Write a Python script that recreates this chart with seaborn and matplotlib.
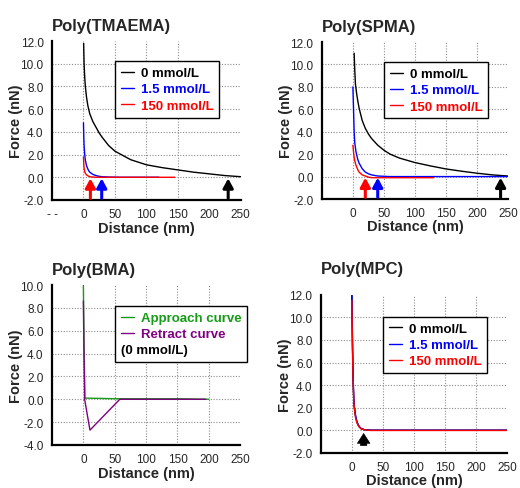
import matplotlib
matplotlib.use("Agg")
import matplotlib.pyplot as plt
import seaborn as sns

# ---- data ----
# Poly(TMAEMA)
tm_x0 = [0.3, 1, 2, 3, 5, 7, 10, 15, 20, 25, 30, 40, 50, 60, 75, 100, 125, 150, 175, 200, 225, 250]
tm_y0 = [11.8, 10.0, 8.8, 8.0, 7.0, 6.3, 5.6, 4.9, 4.4, 3.9, 3.5, 2.8, 2.3, 2.0, 1.55, 1.1, 0.85, 0.65, 0.45, 0.3, 0.15, 0.05]
tm_x15 = [0, 0.5, 1, 2, 3, 5, 8, 10, 15, 20, 25, 30, 40, 60, 80, 100, 120]
tm_y15 = [4.8, 3.6, 2.8, 2.0, 1.5, 1.0, 0.6, 0.45, 0.25, 0.15, 0.08, 0.05, 0.02, 0.0, 0.0, 0.0, 0.0]
tm_x150 = [0, 0.5, 1, 2, 3, 5, 8, 10, 15, 20, 40, 80, 120, 145]
tm_y150 = [1.8, 1.2, 0.8, 0.5, 0.35, 0.2, 0.1, 0.05, 0.02, 0.0, 0.0, 0.0, 0.0, 0.0]
tm_arrows = [11, 29, 230]

# Poly(SPMA)
spm_x0 = [2, 3, 4, 6, 8, 10, 15, 20, 25, 30, 40, 50, 60, 75, 100, 125, 150, 175, 200, 225, 250]
spm_y0 = [11.0, 9.5, 8.3, 7.4, 6.7, 6.1, 5.0, 4.3, 3.8, 3.4, 2.8, 2.35, 2.0, 1.65, 1.25, 0.95, 0.68, 0.48, 0.3, 0.15, 0.05]
spm_x15 = [0, 1, 2, 3, 5, 8, 10, 15, 20, 25, 30, 40, 60, 100, 150, 200, 250]
spm_y15 = [8.0, 6.0, 4.0, 3.0, 2.2, 1.5, 1.2, 0.7, 0.4, 0.25, 0.15, 0.05, 0.0, 0.0, 0.0, 0.0, 0.0]
spm_x150 = [0, 1, 2, 3, 5, 8, 10, 15, 20, 25, 30, 50, 80, 130]
spm_y150 = [2.8, 2.2, 1.7, 1.4, 1.0, 0.6, 0.4, 0.15, 0.05, -0.05, -0.1, -0.1, -0.1, -0.1]
spm_arrows = [20, 40, 238]

# Poly(BMA), 0 mmol/L
bma_app_x = [0, 1, 2.5, 5, 50, 100, 150, 200]
bma_app_y = [10.0, 5.0, 0.1, 0.1, 0.05, 0.05, 0.05, 0.0]
bma_ret_x = [0, 1, 2, 10.5, 58, 100, 150, 195]
bma_ret_y = [8.6, 4.0, 0.0, -2.7, 0.0, 0.0, 0.0, 0.0]

# Poly(MPC)
mpc_x = [0, 1, 2, 3, 4, 6, 8, 10, 12, 15, 20, 30, 50, 100, 150, 200, 250]
mpc_y0 = [12.0, 7.5, 4.5, 2.8, 2.0, 1.2, 0.75, 0.5, 0.3, 0.15, 0.05, 0.0, 0.0, 0.0, 0.0, 0.0, 0.0]
mpc_y15 = [12.0, 7.8, 4.8, 3.0, 2.1, 1.3, 0.8, 0.5, 0.3, 0.15, 0.05, 0.0, 0.0, 0.0, 0.0, 0.0, 0.0]
mpc_y150 = [11.5, 7.2, 4.3, 2.7, 1.9, 1.1, 0.7, 0.45, 0.28, 0.12, 0.04, -0.02, -0.02, -0.02, -0.02, -0.02, -0.02]
mpc_arrows = [19]

conc_labels = ["0 mmol/L", "1.5 mmol/L", "150 mmol/L"]
conc_colors = ["black", "#0000ff", "#ff0000"]

sns.set_style("white")
plt.rcParams["font.family"] = ["Liberation Sans", "DejaVu Sans"]

fig = plt.figure(figsize=(5.2, 4.89), dpi=100)
ax1 = fig.add_axes([0.100, 0.589, 0.363, 0.325])
ax2 = fig.add_axes([0.619, 0.591, 0.358, 0.321])
ax3 = fig.add_axes([0.100, 0.088, 0.362, 0.327])
ax4 = fig.add_axes([0.617, 0.072, 0.358, 0.323])


def style_axis(ax, title, ylim, yticks, title_pad=8):
    ax.set_xlim(-50, 250)
    ax.set_ylim(*ylim)
    ax.set_xticks([0, 50, 100, 150, 200, 250])
    ax.set_yticks(yticks)
    ax.set_yticklabels([f"{v:.1f}" for v in yticks])
    ax.tick_params(length=0, labelsize=8.5, pad=6)
    for s in ["top", "right"]:
        ax.spines[s].set_visible(False)
    for s in ["left", "bottom"]:
        ax.spines[s].set_color("black")
        ax.spines[s].set_linewidth(1.6)
    ax.set_axisbelow(True)
    ax.grid(True, color="#8c8c8c", linestyle=(0, (1, 1.5)), linewidth=0.8)
    # no dotted line along top edge / right edge
    ax.get_ygridlines()[-1].set_visible(False)
    ax.get_xgridlines()[-1].set_visible(False)
    ax.set_title(title, loc="left", fontsize=12, fontweight="bold", pad=title_pad)
    ax.set_xlabel("Distance (nm)", fontsize=10.5, fontweight="bold")
    ax.set_ylabel("Force (nN)", fontsize=10.5, fontweight="bold")
    ax.xaxis.set_label_coords(0.5, -0.13)
    ax.yaxis.set_label_coords(-0.155, 0.5)


def add_legend(ax, anchor, colors, handles=None, labels=None):
    leg = ax.legend(handles=handles, labels=labels, loc="upper left", bbox_to_anchor=anchor,
                    borderaxespad=0, frameon=True, fancybox=False, edgecolor="black",
                    framealpha=1, handlelength=1.0, handletextpad=0.5,
                    labelspacing=0.3, borderpad=0.45, prop={"weight": "bold", "size": 9.5})
    leg.get_frame().set_linewidth(1.0)
    for txt, c in zip(leg.get_texts(), colors):
        txt.set_color(c)
    return leg


def arrow(ax, x, color, thick=False):
    if thick:
        props = dict(arrowstyle="simple,head_width=0.9,head_length=0.7,tail_width=0.45",
                     color=color, lw=0.5)
        ax.annotate("", xy=(x, -0.05), xytext=(x, -1.6), arrowprops=props)
    else:
        props = dict(arrowstyle="-|>,head_width=0.3,head_length=0.55", color=color, lw=2.2,
                     shrinkA=0, shrinkB=0)
        ax.annotate("", xy=(x, -0.1), xytext=(x, -1.85), arrowprops=props)


# ---- Poly(TMAEMA) ----
for x, y, lab, c in zip([tm_x0, tm_x15, tm_x150], [tm_y0, tm_y15, tm_y150], conc_labels, conc_colors):
    sns.lineplot(x=x, y=y, ax=ax1, color=c, linewidth=1.0, label=lab, sort=False, estimator=None)
style_axis(ax1, "Poly(TMAEMA)", (-2, 12), [-2, 0, 2, 4, 6, 8, 10, 12])
ax1.set_xticks([-50, 0, 50, 100, 150, 200, 250])
ax1.set_xticklabels(["- -", "0", "50", "100", "150", "200", "250"])
ax1.get_xgridlines()[0].set_visible(False)
ax1.get_xgridlines()[-1].set_visible(False)
for xa, c in zip(tm_arrows, ["#ff0000", "#0000ff", "black"]):
    arrow(ax1, xa, c)
add_legend(ax1, (0.333, 0.874), conc_colors)

# ---- Poly(SPMA) ----
for x, y, lab, c in zip([spm_x0, spm_x15, spm_x150], [spm_y0, spm_y15, spm_y150], conc_labels, conc_colors):
    sns.lineplot(x=x, y=y, ax=ax2, color=c, linewidth=1.0, label=lab, sort=False, estimator=None)
style_axis(ax2, "Poly(SPMA)", (-2, 12), [-2, 0, 2, 4, 6, 8, 10, 12])
for xa, c in zip(spm_arrows, ["#ff0000", "#0000ff", "black"]):
    arrow(ax2, xa, c)
add_legend(ax2, (0.333, 0.873), conc_colors)

# ---- Poly(BMA) ----
sns.lineplot(x=bma_app_x, y=bma_app_y, ax=ax3, color="#169b16", linewidth=1.0,
             label="Approach curve", sort=False, estimator=None)
sns.lineplot(x=bma_ret_x, y=bma_ret_y, ax=ax3, color="#800080", linewidth=1.0,
             label="Retract curve", sort=False, estimator=None)
style_axis(ax3, "Poly(BMA)", (-4, 10), [-4, -2, 0, 2, 4, 6, 8, 10])
h3, l3 = ax3.get_legend_handles_labels()
blank = plt.Line2D([], [], linestyle="none")
leg3 = add_legend(ax3, (0.335, 0.869), ["#169b16", "#800080", "black"],
                  handles=h3 + [blank], labels=l3 + ["(0 mmol/L)"])
# let the last row start where the handles start
row = leg3._legend_handle_box.get_children()[0].get_children()[2]
row.get_children().pop(0)

# ---- Poly(MPC) ----
for y, lab, c in zip([mpc_y0, mpc_y15, mpc_y150], conc_labels, conc_colors):
    sns.lineplot(x=mpc_x, y=y, ax=ax4, color=c, linewidth=1.0, label=lab, sort=False, estimator=None)
style_axis(ax4, "Poly(MPC)", (-2, 12), [-2, 0, 2, 4, 6, 8, 10, 12], title_pad=16)
for xa in mpc_arrows:
    arrow(ax4, xa, "black", thick=True)
add_legend(ax4, (0.333, 0.861), conc_colors)

fig.savefig("out.png", dpi=100)
